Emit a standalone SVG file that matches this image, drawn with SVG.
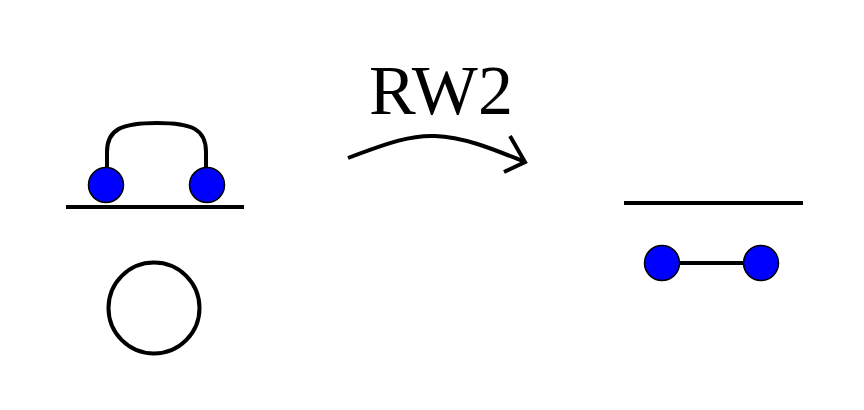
<svg xmlns="http://www.w3.org/2000/svg" width="864" height="410" viewBox="0 0 864 410">
<style>
.ln{fill:none;stroke:#000;stroke-width:4;stroke-linecap:butt}
.dot{fill:#0000ff;stroke:#000;stroke-width:1.5}
.lbl{font-family:"Liberation Serif",serif;font-size:70px;fill:#000}
</style>
<rect width="864" height="410" fill="#fff"/>
<g id="left">
<line class="ln" x1="66" y1="207" x2="244" y2="207"/>
<path class="ln" d="M107,167 L107,152 C107,129 122,123 157,123 C192,123 206,129 206,152 L206,167"/>
<circle class="dot" cx="106" cy="185" r="17.5"/>
<circle class="dot" cx="207" cy="185" r="17.5"/>
</g>
<g id="unknot">
<circle class="ln" cx="154" cy="308" r="45.5"/>
</g>
<g id="connectors">
<path class="ln" d="M348,158 C390,142 412,135 435,136 C465,137 495,150 525,162"/>
<polyline class="ln" points="510,136 525,162 504,172"/>
<text class="lbl" x="369" y="114">RW2</text>
</g>
<g id="right">
<line class="ln" x1="624" y1="203" x2="803" y2="203"/>
<line class="ln" x1="662" y1="263" x2="761" y2="263"/>
<circle class="dot" cx="662" cy="263" r="17.5"/>
<circle class="dot" cx="761" cy="263" r="17.5"/>
</g>
</svg>
